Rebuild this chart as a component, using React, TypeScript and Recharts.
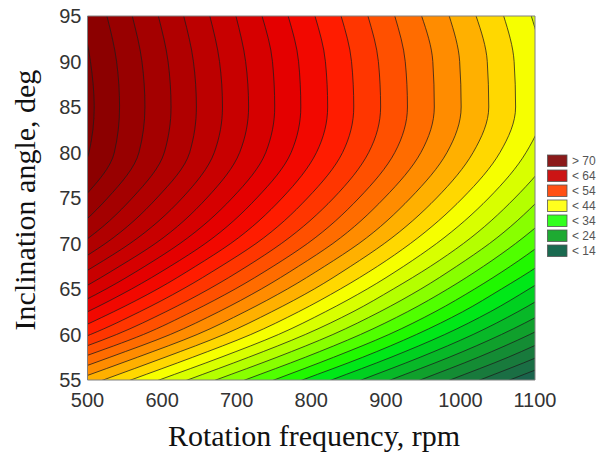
import { ComposedChart, Area, XAxis, YAxis, CartesianGrid, ReferenceArea } from 'recharts';

// inclination angle rows (deg), top to bottom; 50 lies just below the frame so the lines run out of it
const angles = [95, 90, 85, 80, 75, 70, 67.5, 65, 62.5, 60, 57.5, 55, 50];

const xTicks = [500, 600, 700, 800, 900, 1000, 1100];
const yTicks = [55, 60, 65, 70, 75, 80, 85, 90, 95];

// rotation frequency (rpm) where each contour line crosses the angle rows above
const iso72 = [492, 504, 509, 502, 461, 392, 343, 290, 227, 158, 69, -19, -186];
const iso70 = [526, 539, 543, 536, 494, 425, 376, 323, 261, 192, 103, 16, -152];
const iso68 = [560, 573, 577, 569, 527, 458, 409, 356, 295, 226, 138, 51, -117];
const iso66 = [595, 608, 612, 603, 560, 491, 442, 390, 328, 260, 172, 85, -82];
const iso64 = [629, 642, 646, 637, 593, 524, 476, 423, 362, 294, 207, 121, -47];
const iso62 = [664, 677, 681, 670, 627, 557, 509, 457, 397, 329, 242, 156, -11];
const iso60 = [699, 712, 716, 704, 660, 591, 543, 491, 431, 363, 278, 191, 25];
const iso58 = [734, 748, 751, 739, 694, 624, 577, 525, 465, 398, 313, 227, 60];
const iso56 = [769, 783, 786, 773, 727, 658, 611, 559, 500, 433, 349, 263, 97];
const iso54 = [805, 819, 822, 807, 761, 692, 645, 594, 535, 468, 385, 299, 133];
const iso52 = [840, 854, 857, 842, 795, 726, 679, 628, 570, 504, 421, 336, 170];
const iso50 = [876, 890, 893, 877, 830, 760, 714, 663, 605, 539, 457, 372, 206];
const iso48 = [912, 926, 929, 912, 864, 795, 749, 698, 640, 575, 493, 409, 244];
const iso46 = [948, 963, 965, 947, 898, 829, 783, 733, 676, 611, 530, 446, 281];
const iso44 = [985, 999, 1001, 982, 933, 864, 818, 768, 711, 647, 567, 483, 318];
const iso42 = [1021, 1036, 1038, 1017, 968, 898, 853, 804, 747, 683, 604, 521, 356];
const iso40 = [1058, 1072, 1074, 1053, 1003, 933, 889, 839, 783, 719, 641, 558, 394];
const iso38 = [1095, 1109, 1111, 1088, 1038, 968, 924, 875, 819, 756, 679, 596, 432];
const iso36 = [1132, 1146, 1148, 1124, 1073, 1004, 960, 910, 856, 792, 716, 634, 471];
const iso34 = [1169, 1183, 1185, 1160, 1108, 1039, 995, 947, 892, 829, 754, 672, 510];
const iso32 = [1206, 1221, 1222, 1196, 1144, 1074, 1031, 983, 929, 866, 792, 711, 549];
const iso30 = [1244, 1258, 1259, 1232, 1179, 1110, 1067, 1019, 966, 904, 830, 750, 588];
const iso28 = [1282, 1296, 1297, 1269, 1215, 1146, 1104, 1055, 1003, 941, 869, 788, 627];
const iso26 = [1320, 1334, 1334, 1305, 1251, 1182, 1140, 1092, 1040, 979, 907, 827, 667];
const iso24 = [1358, 1372, 1372, 1342, 1287, 1218, 1176, 1129, 1077, 1017, 946, 867, 707];
const iso22 = [1396, 1410, 1410, 1379, 1323, 1254, 1213, 1166, 1115, 1055, 985, 906, 747];
const iso20 = [1434, 1448, 1448, 1416, 1359, 1291, 1250, 1203, 1152, 1093, 1024, 946, 787];
const iso18 = [1473, 1487, 1487, 1453, 1396, 1327, 1287, 1240, 1190, 1131, 1064, 986, 828];
const iso16 = [1512, 1525, 1525, 1490, 1432, 1364, 1324, 1278, 1228, 1170, 1103, 1026, 869];
const iso14 = [1551, 1564, 1564, 1528, 1469, 1401, 1361, 1315, 1266, 1208, 1143, 1066, 910];

const levels = [72, 70, 68, 66, 64, 62, 60, 58, 56, 54, 52, 50, 48, 46, 44, 42, 40, 38, 36, 34, 32, 30, 28, 26, 24, 22, 20, 18, 16, 14];
const isoLines = [iso72, iso70, iso68, iso66, iso64, iso62, iso60, iso58, iso56, iso54, iso52, iso50, iso48, iso46, iso44,
  iso42, iso40, iso38, iso36, iso34, iso32, iso30, iso28, iso26, iso24, iso22, iso20, iso18, iso16, iso14];

const legendLabels = ['> 70', '< 64', '< 54', '< 44', '< 34', '< 24', '< 14'];

// fill of the band just above each level, same order as levels
const bandColors = ['#830000', '#8c0000', '#980000', '#a40000', '#b00000', '#bc0000', '#c80000', '#d60000', '#e40000', '#f20800',
  '#ff1c00', '#ff3600', '#ff5000', '#ff6c00', '#ff8c00', '#ffb000', '#ffd800', '#f6ff00', '#d8ff00', '#b4ff00',
  '#88ff00', '#50ff00', '#20f800', '#00e818', '#00d020', '#08b828', '#10a02c', '#148c34', '#187a3c', '#1a6e44'];
const lowestColor = '#1a644c';
const legendColors = ['#8b1a1a', '#cc1414', '#ff5014', '#ffff1e', '#32ff1e', '#1eaa32', '#1a6a50'];

const rows = angles.map((a, i) => {
  const row: Record<string, number> = { a };
  levels.forEach((l, j) => {
    row['c' + l] = isoLines[j][i];
  });
  return row;
});

const sans = "'Liberation Sans', Arial, sans-serif";
const serif = "'Liberation Serif', 'Times New Roman', serif";

export default function App() {
  const order = levels.map((l, j) => ({ l, color: bandColors[j] })).reverse();
  return (
    <div style={{ position: 'fixed', left: 0, top: 0, width: 598, height: 454, background: '#fff' }}>
      <ComposedChart
        width={598}
        height={454}
        data={rows}
        layout="vertical"
        margin={{ top: 16, right: 63, bottom: 44, left: 47.5 }}
      >
        <CartesianGrid horizontal={false} vertical={false} fill={lowestColor} stroke="none" />
        <XAxis
          type="number"
          domain={[500, 1100]}
          ticks={xTicks}
          allowDataOverflow
          interval={0}
          height={30}
          axisLine={false}
          tickLine={false}
          tickSize={6}
          tickMargin={7}
          tick={{ fontSize: 20, fill: '#333', fontFamily: sans }}
        />
        <YAxis
          type="number"
          dataKey="a"
          domain={[55, 95]}
          ticks={yTicks}
          reversed
          allowDataOverflow
          interval={0}
          width={40}
          axisLine={false}
          tickLine={false}
          tickSize={4}
          tickMargin={2}
          tick={{ fontSize: 20, fill: '#333', fontFamily: sans }}
        />
        {order.map(({ l, color }) => (
          <Area
            key={l}
            type="monotone"
            dataKey={'c' + l}
            fill={color}
            fillOpacity={1}
            stroke="#1c1c1c"
            strokeOpacity={0.75}
            strokeWidth={1}
            dot={false}
            activeDot={false}
            isAnimationActive={false}
          />
        ))}
        <ReferenceArea x1={500} x2={1100} y1={55} y2={95} fill="none" stroke="#808080" strokeWidth={1} ifOverflow="visible" />
      </ComposedChart>
      <svg width={598} height={454} style={{ position: 'absolute', left: 0, top: 0, pointerEvents: 'none' }}>
        <text x={314} y={446} textAnchor="middle" fontFamily={serif} fontSize={30} fill="#111">
          Rotation frequency, rpm
        </text>
        <text x={35} y={200} transform="rotate(-90 35 200)" textAnchor="middle" fontFamily={serif} fontSize={30} fill="#111">
          Inclination angle, deg
        </text>
        {legendLabels.map((label, i) => (
          <g key={label}>
            <rect x={547.5} y={155 + 15 * i} width={19.5} height={11.5} fill={legendColors[i]} stroke="#555" strokeWidth={0.8} />
            <text x={572} y={155 + 15 * i + 10} fontFamily={sans} fontSize={12} fill="#555">
              {label}
            </text>
          </g>
        ))}
      </svg>
    </div>
  );
}
